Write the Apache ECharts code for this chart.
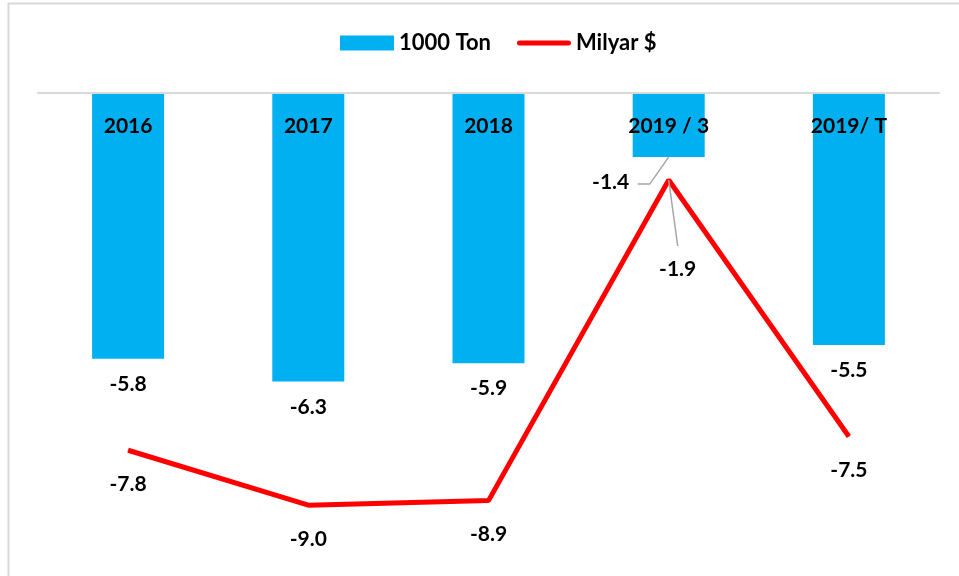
<!DOCTYPE html>
<html>
<head>
<meta charset="utf-8">
<script src="https://cdn.jsdelivr.net/npm/echarts@6/dist/echarts.min.js"></script>
<style>
  html, body { margin: 0; padding: 0; background: #fff; }
  #main { width: 959px; height: 576px; }
</style>
</head>
<body>
<div id="main"></div>
<script>
const categories = ['2016', '2017', '2018', '2019 / 3', '2019/ T'];
const tonValues = [-5.8, -6.3, -5.9, -1.4, -5.5];
const usdValues = [-7.8, -9.0, -8.9, -1.9, -7.5];

const font = 'Lato, "Liberation Sans", sans-serif';
const labelFont = { fontFamily: font, fontWeight: 'bold', fontSize: 21, color: '#000' };

const chart = echarts.init(document.getElementById('main'));

const option = {
  backgroundColor: '#fff',
  animation: false,
  textStyle: { fontFamily: font },
  legend: {
    top: 27,
    left: 335,
    itemWidth: 54,
    itemHeight: 15,
    itemGap: 26,
    textStyle: Object.assign({}, labelFont, { fontSize: 22 }),
    data: [
      { name: '1000 Ton', icon: 'rect' },
      { name: 'Milyar $', icon: 'path://M2.5,0 L51.5,0 A2.5,2.5 0 0 1 51.5,5 L2.5,5 A2.5,2.5 0 0 1 2.5,0 Z' }
    ]
  },
  grid: { left: 38, right: 20, top: 93, bottom: 25 },
  xAxis: {
    type: 'category',
    position: 'top',
    data: categories,
    axisLine: { show: true, lineStyle: { color: '#d9d9d9', width: 2 } },
    axisTick: { show: false },
    axisLabel: Object.assign({ inside: true, margin: 23 }, labelFont),
    z: 10
  },
  yAxis: {
    type: 'value',
    min: -10,
    max: 0,
    show: false,
    splitLine: { show: false }
  },
  series: [
    {
      name: '1000 Ton',
      type: 'bar',
      barWidth: 72,
      itemStyle: { color: '#00b0f0' },
      label: Object.assign({
        show: true,
        position: 'bottom',
        distance: 15,
        formatter: p => p.value.toFixed(1)
      }, labelFont),
      labelLayout: function (p) {
        if (p.dataIndex === 3) return { dx: -58, dy: 0 };
        return {};
      },
      data: tonValues
    },
    {
      name: 'Milyar $',
      type: 'line',
      symbol: 'circle',
      symbolSize: 1,
      lineStyle: { color: '#ff0000', width: 5 },
      itemStyle: { color: '#ff0000' },
      z: 5,
      label: Object.assign({
        show: true,
        position: 'bottom',
        distance: 23,
        formatter: p => p.value.toFixed(1)
      }, labelFont),
      labelLayout: function (p) {
        if (p.dataIndex === 3) return { dx: 9, dy: 55 };
        return {};
      },
      data: usdValues
    }
  ]
};

chart.setOption(option);

// leader lines for the two moved labels at 2019 / 3
const b = chart.convertToPixel({ seriesIndex: 0 }, [3, tonValues[3]]);
const l = chart.convertToPixel({ seriesIndex: 1 }, [3, usdValues[3]]);
chart.setOption({
  graphic: [
    {
      type: 'polyline',
      shape: { points: [[8.5, 580], [8.5, 3.5], [965, 3.5]] },
      style: { stroke: '#d9d9d9', lineWidth: 2, fill: null }
    },
    {
      type: 'polyline',
      z: 20,
      shape: { points: [[b[0], b[1]], [b[0] - 19, b[1] + 27], [b[0] - 31, b[1] + 27]] },
      style: { stroke: '#a6a6a6', lineWidth: 1.5, fill: null }
    },
    {
      type: 'line',
      z: 20,
      shape: { x1: l[0], y1: l[1], x2: l[0] + 9, y2: l[1] + 66 },
      style: { stroke: '#a6a6a6', lineWidth: 1.5 }
    }
  ]
});
</script>
</body>
</html>
